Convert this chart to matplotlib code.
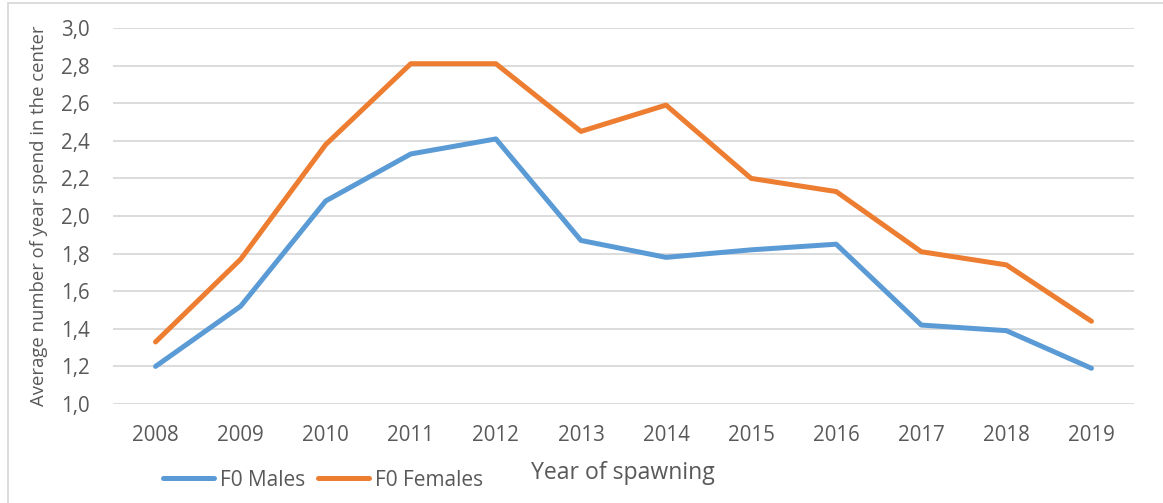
import matplotlib
matplotlib.use("Agg")
import matplotlib.pyplot as plt
from matplotlib.patches import Rectangle

years = ["2008", "2009", "2010", "2011", "2012", "2013", "2014", "2015", "2016", "2017", "2018", "2019"]
males = [1.20, 1.52, 2.08, 2.33, 2.41, 1.87, 1.78, 1.82, 1.85, 1.42, 1.39, 1.19]
females = [1.33, 1.77, 2.38, 2.81, 2.81, 2.45, 2.59, 2.20, 2.13, 1.81, 1.74, 1.44]
yticks = [1.0, 1.2, 1.4, 1.6, 1.8, 2.0, 2.2, 2.4, 2.6, 2.8, 3.0]

plt.rcParams['font.family'] = ['Open Sans', 'DejaVu Sans']
text_color = "#595959"
blue = "#5B9BD5"
orange = "#ED7D31"
grid = "#D9D9D9"

W, H = 1163, 503
fig = plt.figure(figsize=(W / 100, H / 100), dpi=100)
ax = fig.add_axes([113 / W, 1 - 404 / H, (1134 - 113) / W, (404 - 28) / H])

x = list(range(len(years)))
l1, = ax.plot(x, males, color=blue, lw=3.6, solid_capstyle='round', solid_joinstyle='round', label="F0 Males", zorder=3)
l2, = ax.plot(x, females, color=orange, lw=3.6, solid_capstyle='round', solid_joinstyle='round', label="F0 Females", zorder=3)

ax.set_xlim(-0.5, len(years) - 0.5)
ax.set_ylim(1.0, 3.0)
ax.set_yticks(yticks)
ax.set_yticklabels([f"{v:.1f}".replace(".", ",") for v in yticks])
ax.set_xticks(x)
ax.set_xticklabels(years)
ax.yaxis.grid(True, color=grid, lw=1.3)
ax.set_axisbelow(True)
for s in ax.spines.values():
    s.set_visible(False)
ax.tick_params(axis='both', length=0, colors=text_color, labelsize=14.8)
ax.tick_params(axis='y', pad=17)
ax.tick_params(axis='x', pad=15)

ax.set_ylabel("Average number of year spend in the center", color=text_color, fontsize=13.3, labelpad=9)

fig.text(623 / W, 1 - 473 / H, "Year of spawning", color=text_color, fontsize=16.6, ha='center', va='center')

leg = fig.legend(handles=[l1, l2], loc='center left', bbox_to_anchor=(163 / W, 1 - 480 / H),
                 ncol=2, frameon=False, fontsize=15, handlelength=2.45, handletextpad=0.3,
                 columnspacing=0.6, borderaxespad=0, borderpad=0)
for t in leg.get_texts():
    t.set_color(text_color)

fig.patches.append(Rectangle((8 / W, -0.1), 1.2, 1 - 3 / H + 0.1, transform=fig.transFigure,
                             fill=False, edgecolor=grid, lw=1.3))

fig.savefig("out.png", dpi=100)
